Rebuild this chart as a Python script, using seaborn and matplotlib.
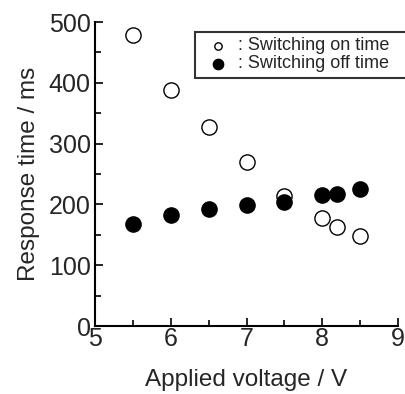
import matplotlib
matplotlib.use("Agg")
import matplotlib.pyplot as plt
import seaborn as sns
import pandas as pd
from matplotlib.ticker import MultipleLocator

voltage = [5.5, 6.0, 6.5, 7.0, 7.5, 8.0, 8.2, 8.5]
on_time = [478, 388, 327, 270, 214, 178, 163, 148]
off_time = [168, 183, 192, 199, 204, 215, 217, 225]

sns.set_theme(style="ticks")
plt.rcParams['font.family'] = ['Liberation Sans', 'DejaVu Sans']

fig = plt.figure(figsize=(4.05, 3.94), dpi=100)
ax = fig.add_axes([95/405, 1-326/394, 303/405, 304/394])

df_on = pd.DataFrame({"V": voltage, "t": on_time})
df_off = pd.DataFrame({"V": voltage, "t": off_time})
sns.scatterplot(data=df_on, x="V", y="t", ax=ax, s=120, facecolor="white",
                edgecolor="black", linewidth=1.0, label=": Switching on time", zorder=3)
sns.scatterplot(data=df_off, x="V", y="t", ax=ax, s=120, facecolor="black",
                edgecolor="black", linewidth=1.0, label=": Switching off time", zorder=3)

ax.set_xlim(5, 9)
ax.set_ylim(0, 500)
ax.xaxis.set_major_locator(MultipleLocator(1))
ax.xaxis.set_minor_locator(MultipleLocator(0.5))
ax.yaxis.set_major_locator(MultipleLocator(100))
ax.yaxis.set_minor_locator(MultipleLocator(50))
ax.tick_params(which="both", direction="in", color="black", width=1.2)
ax.tick_params(which="major", length=6, labelsize=18)
ax.tick_params(axis="y", which="major", pad=3)
ax.tick_params(axis="x", which="major", pad=1)
ax.tick_params(which="minor", length=4)
for s in ["top", "right"]:
    ax.spines[s].set_visible(False)
for s in ["left", "bottom"]:
    ax.spines[s].set_color("black")
    ax.spines[s].set_linewidth(1.5)
ax.set_xlabel("Applied voltage / V", fontsize=17.5, labelpad=13)
ax.set_ylabel("Response time / ms", fontsize=17.5, labelpad=6)

leg = ax.legend(loc="upper left",
                bbox_to_anchor=(195/405, 1-75/394, 220/405, 43/394),
                bbox_transform=fig.transFigure, mode="expand", fontsize=13,
                frameon=True, fancybox=False, borderpad=0.3, labelspacing=0.05,
                handletextpad=0.1, handlelength=2.0, borderaxespad=0)
leg.get_frame().set_edgecolor("black")
leg.get_frame().set_linewidth(1.5)
hs = leg.legend_handles
hs[0].set_sizes([28])
hs[1].set_sizes([55])

fig.savefig("out.png", dpi=100)
